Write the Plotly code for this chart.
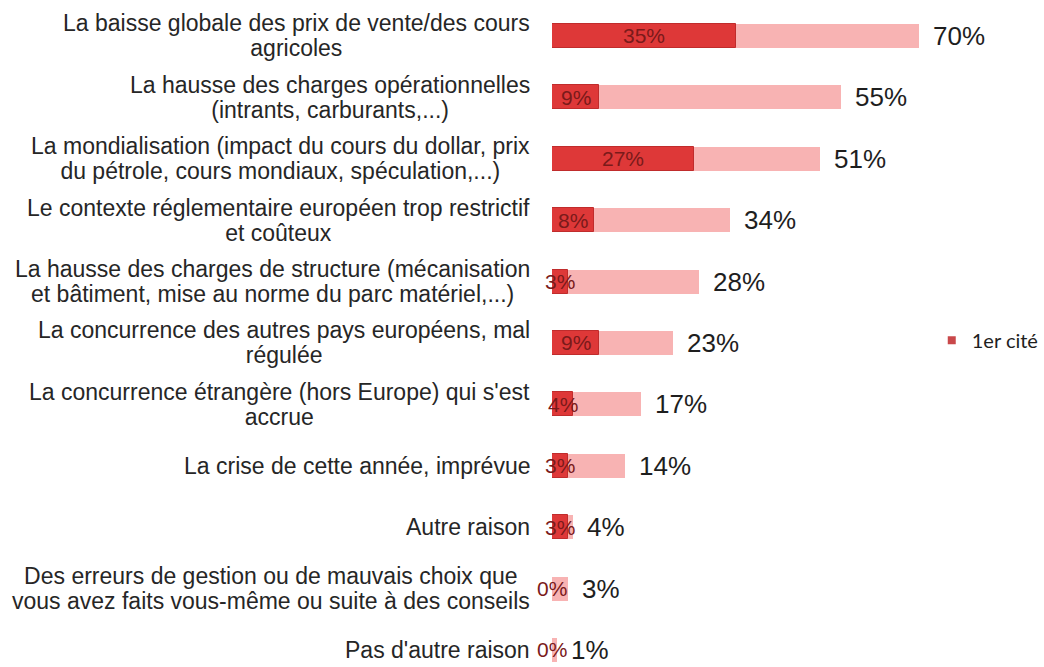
import plotly.graph_objects as go

# Survey: reasons cited for the drop in farm income (% of respondents)
reasons = [
    "La baisse globale des prix de vente/des cours<br>agricoles",
    "La hausse des charges opérationnelles<br>(intrants, carburants,...)",
    "La mondialisation (impact du cours du dollar, prix<br>du pétrole, cours mondiaux, spéculation,...)",
    "Le contexte réglementaire européen trop restrictif<br>et coûteux",
    "La hausse des charges de structure (mécanisation<br>et bâtiment, mise au norme du parc matériel,...)",
    "La concurrence des autres pays européens, mal<br>régulée",
    "La concurrence étrangère (hors Europe) qui s'est<br>accrue",
    "La crise de cette année, imprévue",
    "Autre raison",
    "Des erreurs de gestion ou de mauvais choix que<br>vous avez faits vous-même ou suite à des conseils",
    "Pas d'autre raison",
]
total_cited = [70, 55, 51, 34, 28, 23, 17, 14, 4, 3, 1]
first_cited = [35, 9, 27, 8, 3, 9, 4, 3, 3, 0, 0]

LIGHT = "#F8B3B3"
DARK = "#DE3838"
FONT = "Liberation Sans, Arial, sans-serif"

ypos = list(range(len(reasons)))

fig = go.Figure()

# total mentions (light) behind the first-cited share (dark)
fig.add_trace(go.Bar(
    y=ypos, x=total_cited, orientation="h", width=0.39,
    marker=dict(color=LIGHT, line=dict(width=0)),
    showlegend=False, hoverinfo="skip",
))
fig.add_trace(go.Bar(
    y=ypos, x=first_cited, orientation="h", width=0.39,
    marker=dict(color=DARK, line=dict(color="#C02C2C", width=1)),
    showlegend=False, hoverinfo="skip",
))
# legend entry for the first-cited series
fig.add_trace(go.Scatter(
    x=[None], y=[None], mode="markers", name="1er cité",
    marker=dict(symbol="square", size=8, color="#C9484A"),
))

annotations = []
for i, (lab, tot, first) in enumerate(zip(reasons, total_cited, first_cited)):
    lines = lab.split("<br>")
    styled = "<br>".join(f'<span style="font-size:23px">{ln}</span>' for ln in lines)
    annotations.append(dict(
        x=0, y=i, xref="x", yref="y", text=styled, showarrow=False,
        xanchor="right", yanchor="middle", align="center", xshift=-20,
        font=dict(family=FONT, size=19, color="#262626"),
    ))
    annotations.append(dict(
        x=tot, y=i, xref="x", yref="y", text=f"{tot}%", showarrow=False,
        xanchor="left", yanchor="middle", xshift=12,
        font=dict(family=FONT, size=26, color="#1E1E1E"),
    ))
    annotations.append(dict(
        x=first / 2, y=i, xref="x", yref="y", text=f"{first}%", showarrow=False,
        xanchor="center", yanchor="middle",
        font=dict(family=FONT, size=21, color="#7A1A1A"),
    ))

fig.update_layout(
    width=1044, height=667,
    margin=dict(l=552, r=0, t=0, b=0),
    paper_bgcolor="white", plot_bgcolor="white",
    barmode="overlay", bargap=0,
    xaxis=dict(range=[0, 93.36], visible=False, fixedrange=True),
    yaxis=dict(range=[10.277, -0.586], visible=False, fixedrange=True),
    annotations=annotations,
    legend=dict(
        x=0.775, y=0.49, xanchor="left", yanchor="middle",
        font=dict(family="Lato, sans-serif", size=20, color="#1E1E1E"),
        bgcolor="rgba(0,0,0,0)",
    ),
    showlegend=True,
)

fig.write_html("out.html")
